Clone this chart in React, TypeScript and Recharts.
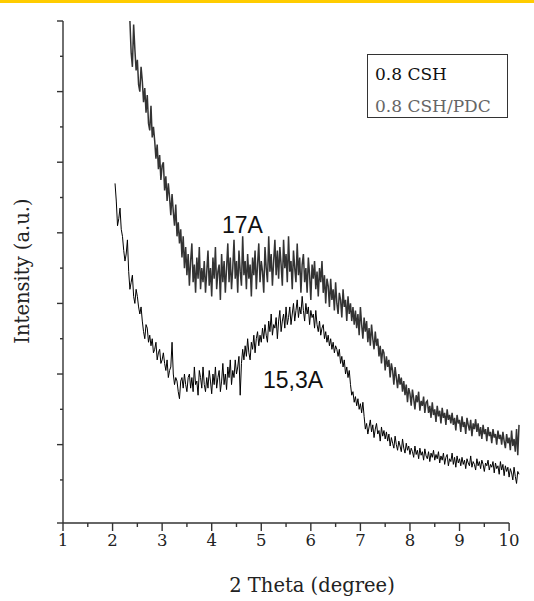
import React from 'react'
import { LineChart, Line, XAxis, YAxis, Legend, ReferenceLine } from 'recharts'

// scan grid (2 theta, degrees)
const thetaStep = 0.025
const pdcStart = 2.35
const cshStart = 2.05

// 0.8 CSH/PDC (upper trace), one row per 0.5 degree
const pdcIntensity = [
    7.0, 6.55, 6.35, 6.95, 6.6, 6.3, 6.45, 6.1, 6.0, 6.35, 6.15, 5.85, 6.05, 5.7, 5.95, 5.55, 5.45, 5.8, 5.35, 5.5,
    5.3, 5.05, 5.25, 4.9, 5.1, 4.75, 4.95, 5.0, 4.6, 4.8, 4.45, 4.7, 4.5, 4.25, 4.55, 4.3, 4.1, 4.4, 3.95, 4.15,
    3.85, 4.05, 3.65, 3.95, 3.5, 3.8, 3.4, 3.7, 3.25, 3.6, 3.85, 3.3, 3.55, 3.15, 3.65, 3.35, 3.8, 3.2, 3.5, 3.3,
    3.6, 3.15, 3.45, 3.75, 3.25, 3.5, 3.1, 3.65, 3.35, 3.8, 3.2, 3.45, 3.55, 3.05, 3.7, 3.3, 3.6, 3.15, 3.5, 3.85,
    3.3, 3.65, 3.2, 3.5, 3.9, 3.35, 3.6, 3.15, 3.75, 3.45, 3.25, 3.95, 3.4, 3.6, 3.2, 3.7, 3.35, 3.55, 3.1, 3.65,
    3.4, 3.75, 3.2, 3.55, 3.85, 3.3, 3.6, 3.45, 3.15, 3.8, 3.5, 3.3, 3.95, 3.45, 3.7, 3.25, 3.6, 3.9, 3.4, 3.75,
    3.35, 3.8, 3.55, 3.25, 3.9, 3.5, 3.7, 3.3, 3.95, 3.45, 3.6, 3.2, 3.75, 3.5, 3.3, 3.85, 3.4, 3.65, 3.15, 3.55,
    3.7, 3.3, 3.5, 3.15, 3.65, 3.4, 3.05, 3.55, 3.35, 3.6, 3.2, 3.45, 3.1, 3.5, 3.3, 3.6, 3.15, 3.4, 3.0, 3.35,
    3.25, 2.95, 3.35, 3.05, 3.2, 2.9, 3.3, 3.0, 2.85, 3.15, 3.05, 2.8, 3.2, 2.95, 3.05, 2.75, 3.1, 2.85, 3.0, 2.75,
    2.95, 2.7, 2.9, 2.65, 2.85, 2.55, 2.95, 2.7, 2.5, 2.8, 2.6, 2.75, 2.45, 2.65, 2.4, 2.7, 2.5, 2.35, 2.6, 2.4,
    2.5, 2.25, 2.4, 2.15, 2.35, 2.3, 2.05, 2.25, 2.1, 2.2, 1.95, 2.15, 2.05, 1.85, 2.1, 1.95, 1.8, 2.0, 1.85, 1.95,
    1.75, 1.9, 1.7, 1.85, 1.6, 1.8, 1.72, 1.55, 1.78, 1.65, 1.5, 1.7, 1.6, 1.75, 1.48, 1.62, 1.55, 1.68, 1.45, 1.6,
    1.62, 1.45, 1.55, 1.38, 1.6, 1.42, 1.5, 1.32, 1.55, 1.4, 1.48, 1.3, 1.52, 1.38, 1.45, 1.28, 1.5, 1.35, 1.42, 1.3,
    1.45, 1.28, 1.38, 1.2, 1.42, 1.3, 1.35, 1.18, 1.4, 1.25, 1.32, 1.15, 1.38, 1.28, 1.2, 1.35, 1.12, 1.3, 1.22, 1.36,
    1.18, 1.3, 1.12, 1.25, 1.08, 1.28, 1.15, 1.22, 1.05, 1.25, 1.12, 1.18, 1.02, 1.22, 1.1, 1.15, 1.0, 1.2, 1.08, 1.14,
    1.0, 1.18, 1.05, 0.95, 1.15, 1.02, 1.1, 0.92, 1.2, 0.98, 1.08, 0.9, 1.22, 0.85, 1.28,
]

// 0.8 CSH (lower trace), one row per 0.5 degree
const cshIntensity = [
    4.7, 4.45, 4.1, 4.2, 4.35, 4.05, 3.95, 3.75, 3.6, 3.7, 3.9, 3.45, 3.2, 3.3, 3.4, 3.1, 3.0, 3.2, 3.1, 2.95,
    2.85, 2.95, 2.75, 2.6, 2.5, 2.7, 2.65, 2.45, 2.55, 2.4, 2.5, 2.3, 2.35, 2.45, 2.2, 2.3, 2.35, 2.15, 2.2, 2.3,
    2.15, 2.05, 2.2, 1.95, 2.05, 2.1, 2.45, 2.0, 1.85, 1.95, 1.9, 1.75, 1.65, 1.9, 1.95, 1.8, 2.0, 1.85, 1.75, 1.95,
    2.0, 1.8, 1.95, 1.75, 2.1, 1.85, 1.9, 1.7, 2.05, 1.95, 1.8, 2.1, 1.85, 1.75, 1.95, 1.8, 2.05, 1.9, 1.72, 2.0,
    1.85, 2.1, 1.8, 1.95, 2.05, 1.75, 1.9, 2.15, 1.85, 2.0, 1.78, 2.1, 1.95, 2.2, 1.85, 2.05, 1.95, 2.2, 2.0, 2.1,
    2.25, 1.7, 2.15, 2.35, 2.2, 2.4, 2.25, 2.5, 2.3, 2.2, 2.45, 2.35, 2.55, 2.3, 2.5, 2.6, 2.4, 2.55, 2.45, 2.65,
    2.5, 2.7, 2.55, 2.45, 2.75, 2.6, 2.85, 2.55, 2.7, 2.65, 2.8, 2.5, 2.75, 2.9, 2.6, 2.75, 2.85, 2.65, 2.95, 2.7,
    2.8, 2.95, 2.7, 2.85, 3.0, 2.75, 2.9, 3.05, 2.8, 2.95, 2.85, 3.1, 2.9, 2.75, 3.0, 2.85, 2.95, 2.7, 2.9, 2.8,
    2.85, 2.65, 2.9, 2.7, 2.6, 2.75, 2.55, 2.65, 2.7, 2.5, 2.6, 2.45, 2.55, 2.4, 2.5, 2.35, 2.45, 2.3, 2.4, 2.35,
    2.25, 2.35, 2.15, 2.25, 2.1, 2.2, 2.0, 2.1, 1.95, 2.05, 1.85, 1.7, 1.75, 1.6, 1.68, 1.55, 1.65, 1.5, 1.58, 1.45,
    1.6, 1.4, 1.22, 1.3, 1.15, 1.25, 1.35, 1.18, 1.28, 1.1, 1.22, 1.3, 1.15, 1.2, 1.05, 1.25, 1.12, 1.2, 1.08, 1.18,
    1.05, 1.15, 0.98, 1.1, 1.02, 0.95, 1.12, 1.0, 0.92, 1.05, 0.98, 0.9, 1.08, 0.95, 0.88, 1.02, 0.92, 0.98, 0.86, 0.95,
    0.9, 0.82, 0.98, 0.86, 0.92, 0.8, 0.95, 0.85, 0.9, 0.78, 0.94, 0.84, 0.8, 0.9, 0.76, 0.88, 0.82, 0.92, 0.78, 0.86,
    0.8, 0.9, 0.74, 0.84, 0.78, 0.88, 0.72, 0.82, 0.86, 0.7, 0.8, 0.76, 0.88, 0.72, 0.82, 0.68, 0.84, 0.74, 0.8, 0.7,
    0.82, 0.72, 0.78, 0.66, 0.8, 0.74, 0.7, 0.84, 0.68, 0.76, 0.72, 0.64, 0.8, 0.7, 0.76, 0.66, 0.78, 0.72, 0.62, 0.74,
    0.7, 0.78, 0.64, 0.72, 0.68, 0.76, 0.6, 0.74, 0.66, 0.7, 0.58, 0.76, 0.64, 0.72, 0.56, 0.7, 0.62, 0.68, 0.54, 0.66,
    0.6, 0.5, 0.68, 0.55, 0.45, 0.62, 0.58,
]

const xTicks = [1, 1.5, 2, 2.5, 3, 3.5, 4, 4.5, 5, 5.5, 6, 6.5, 7, 7.5, 8, 8.5, 9, 9.5, 10]
const yMin = -0.11
const yTicks = [yMin, 0.5, 1, 1.5, 2, 2.5, 3, 3.5, 4, 4.5, 5, 5.5, 6, 6.5, 7]
const seriesNames = ['0.8 CSH', '0.8 CSH/PDC']
const peakNames = ['17A', '15,3A']

const toPoints = (start: number, values: number[]) =>
    values.map((v, i) => ({ theta: +(start + i * thetaStep).toFixed(3), intensity: v }))

const pdcData = toPoints(pdcStart, pdcIntensity)
const cshData = toPoints(cshStart, cshIntensity)

const serif = '"DejaVu Serif", serif'
const axisColor = '#333'

const XTick = (props: any) => {
    const { x, y, payload } = props
    const major = Number.isInteger(payload.value)
    return (
        <g>
            <line x1={x} y1={y} x2={x} y2={y + (major ? 8 : 4)} stroke={axisColor} strokeWidth={1.4} />
            {major && (
                <text x={x} y={y + 23} textAnchor='middle' fontFamily={serif} fontSize={16.5} fill='#222'>
                    {payload.value}
                </text>
            )}
        </g>
    )
}

const YTick = (props: any) => {
    const { x, y, payload } = props
    const major = Number.isInteger(payload.value) || payload.value === yMin
    return <line x1={x - (major ? 6 : 3)} y1={y} x2={x} y2={y} stroke={axisColor} strokeWidth={1.4} />
}

const LegendBox = () => (
    <svg width={141} height={64}>
        <rect x={0.5} y={0.5} width={140} height={63} fill='#fff' stroke={axisColor} strokeWidth={1} />
        <text x={8} y={26} fontFamily={serif} fontSize={17} fill='#111'>{seriesNames[0]}</text>
        <text x={8} y={58} fontFamily={serif} fontSize={17} fill='#666'>{seriesNames[1]}</text>
    </svg>
)

const App: React.FC = () => {
    return (
        <div style={{ position: 'absolute', left: 0, top: 0, width: 534, height: 601, background: '#fff' }}>
            <LineChart width={534} height={601} margin={{ top: 21, right: 13, bottom: 0, left: 0 }}>
                <XAxis
                    type='number'
                    dataKey='theta'
                    domain={[1, 10.24]}
                    ticks={xTicks}
                    interval={0}
                    height={78}
                    axisLine={false}
                    tickLine={false}
                    tickSize={0}
                    tickMargin={0}
                    tick={<XTick />}
                />
                <YAxis
                    type='number'
                    domain={[yMin, 7]}
                    ticks={yTicks}
                    interval={0}
                    width={63}
                    axisLine={{ stroke: axisColor, strokeWidth: 1.4 }}
                    tickLine={false}
                    tickSize={0}
                    tickMargin={0}
                    tick={<YTick />}
                />
                <ReferenceLine
                    segment={[{ x: 1, y: yMin }, { x: 10, y: yMin }]}
                    stroke={axisColor}
                    strokeWidth={1.4}
                />
                <Line
                    data={pdcData}
                    dataKey='intensity'
                    name={seriesNames[1]}
                    type='linear'
                    stroke='#333'
                    strokeWidth={1.5}
                    dot={false}
                    isAnimationActive={false}
                />
                <Line
                    data={cshData}
                    dataKey='intensity'
                    name={seriesNames[0]}
                    type='linear'
                    stroke='#000'
                    strokeWidth={1}
                    dot={false}
                    isAnimationActive={false}
                />
                <Legend
                    layout='vertical'
                    align='center'
                    verticalAlign='middle'
                    wrapperStyle={{ left: 367, top: 54, width: 141, height: 64 }}
                    content={<LegendBox />}
                />
            </LineChart>
            <svg width={534} height={601} style={{ position: 'absolute', left: 0, top: 0, pointerEvents: 'none' }}>
                <text x={222} y={233} fontFamily='"Liberation Sans", Arial, sans-serif' fontSize={23} fill='#111'>
                    {peakNames[0]}
                </text>
                <text x={263} y={388} fontFamily='"Liberation Sans", Arial, sans-serif' fontSize={23} fill='#111'>
                    {peakNames[1]}
                </text>
                <text x={312} y={592} textAnchor='middle' fontFamily={serif} fontSize={19.5} fill='#222'>
                    2 Theta (degree)
                </text>
                <text
                    x={29}
                    y={271}
                    textAnchor='middle'
                    transform='rotate(-90 29 271)'
                    fontFamily={serif}
                    fontSize={19.5}
                    fill='#222'
                >
                    Intensity (a.u.)
                </text>
            </svg>
            <div style={{ position: 'absolute', left: 0, top: 0, width: 534, height: 3, background: '#FFCC00' }} />
        </div>
    )
}

export default App
